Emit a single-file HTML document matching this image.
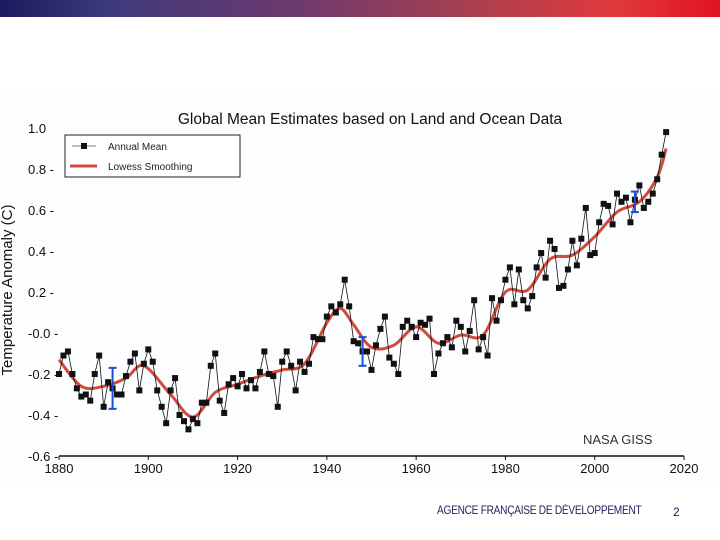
<!DOCTYPE html>
<html><head><meta charset="utf-8"><style>
body{margin:0;width:720px;height:540px;background:#fff;overflow:hidden;font-family:"Liberation Sans",sans-serif;position:relative}
#bar{position:absolute;left:0;top:0;width:720px;height:17px;background:linear-gradient(90deg,#1c1a5e 0%,#3d3a7c 15%,#6a3a6e 40%,#a8404f 65%,#e03a3c 85%,#e01520 100%)}
#footer{position:absolute;left:437px;top:505px;font-size:11.5px;color:#2b1a5a;letter-spacing:-0.3px;transform:scaleX(0.88);transform-origin:left}
#page{position:absolute;left:673px;top:505px;font-size:12px;color:#2b1a5a}
</style></head><body>
<div id="bar"></div>
<svg id="chart" width="720" height="540" style="position:absolute;left:0;top:0">
<rect x="0" y="93" width="720" height="390" fill="#fbfdff"/>
<text x="370" y="124" text-anchor="middle" font-size="15.5" fill="#111">Global Mean Estimates based on Land and Ocean Data</text>
<text transform="translate(12,290) rotate(-90)" text-anchor="middle" font-size="15" fill="#111">Temperature Anomaly (C)</text>
<g id="axes"></g><g id="marks"></g>
<g>
<rect x="65" y="135" width="175" height="42" fill="#fff" stroke="#222" stroke-width="1"/>
<line x1="72" y1="146" x2="96" y2="146" stroke="#555" stroke-width="0.8"/><rect x="81" y="143" width="6" height="6" fill="#111"/>
<text x="108" y="150" font-size="10" fill="#222">Annual Mean</text>
<line x1="70" y1="166" x2="97" y2="166" stroke="#d24a3c" stroke-width="3"/>
<text x="108" y="170" font-size="10" fill="#222">Lowess Smoothing</text>
</g>
<text x="583" y="444" font-size="13" fill="#333">NASA GISS</text>
</svg>
<div id="footer">AGENCE FRANÇAISE DE DÉVELOPPEMENT</div>
<div id="page">2</div>
<script>
const annual=[-0.20,-0.11,-0.09,-0.20,-0.27,-0.31,-0.30,-0.33,-0.20,-0.11,-0.36,-0.24,-0.27,-0.30,-0.30,-0.21,-0.14,-0.10,-0.28,-0.15,-0.08,-0.14,-0.28,-0.36,-0.44,-0.28,-0.22,-0.40,-0.43,-0.47,-0.42,-0.44,-0.34,-0.34,-0.16,-0.10,-0.33,-0.39,-0.25,-0.22,-0.26,-0.20,-0.27,-0.23,-0.27,-0.19,-0.09,-0.20,-0.21,-0.36,-0.14,-0.09,-0.16,-0.28,-0.14,-0.19,-0.15,-0.02,-0.03,-0.03,0.08,0.13,0.10,0.14,0.26,0.13,-0.04,-0.05,-0.09,-0.09,-0.18,-0.06,0.02,0.08,-0.12,-0.15,-0.20,0.03,0.06,0.03,-0.02,0.05,0.04,0.07,-0.20,-0.10,-0.05,-0.02,-0.07,0.06,0.03,-0.09,0.01,0.16,-0.08,-0.02,-0.11,0.17,0.06,0.16,0.26,0.32,0.14,0.31,0.16,0.12,0.18,0.32,0.39,0.27,0.45,0.41,0.22,0.23,0.31,0.45,0.33,0.46,0.61,0.38,0.39,0.54,0.63,0.62,0.53,0.68,0.64,0.66,0.54,0.65,0.72,0.61,0.64,0.68,0.75,0.87,0.98];
const firstYear=1880;
const lowessYears=[1880,1885,1890,1895,1899,1905,1910,1915,1920,1925,1930,1935,1940,1943,1946,1950,1955,1960,1965,1970,1975,1980,1985,1990,1995,2000,2005,2010,2014,2016];
const lowessVals=[-0.13,-0.26,-0.26,-0.22,-0.16,-0.30,-0.41,-0.29,-0.25,-0.21,-0.18,-0.15,0.05,0.12,0.04,-0.07,-0.06,0.03,-0.05,-0.01,-0.01,0.20,0.21,0.36,0.38,0.47,0.59,0.64,0.76,0.90];
const errYears=[1892,1948,2009];
const errCenter=[-0.27,-0.09,0.64];
const errHalf=[0.10,0.07,0.05];
const xTicks=[1880,1900,1920,1940,1960,1980,2000,2020];
const yTicks=[1.0,0.8,0.6,0.4,0.2,0.0,-0.2,-0.4,-0.6];
const yTickLabels=["1.0","0.8 -","0.6 -","0.4 -","0.2 -","-0.0 -","-0.2 -","-0.4 -","-0.6 -"];
const X=y=>59+(y-1880)*625/140;
const Y=v=>333-v*205;
const NS='http://www.w3.org/2000/svg';
function mk(t,a,p){const e=document.createElementNS(NS,t);for(const k in a)e.setAttribute(k,a[k]);p.appendChild(e);return e;}
const ax=document.getElementById('axes'),mg=document.getElementById('marks');
let l=mk('line',{x1:X(1880),x2:X(2020),y1:Y(-0.6),y2:Y(-0.6),stroke:'#111','stroke-width':1.5},ax);


xTicks.forEach(t=>{
 const tk=mk('line',{x1:X(t),x2:X(t),y1:Y(-0.6),y2:Y(-0.6)+4,stroke:'#111'},ax);
 
 
 const tx=mk('text',{x:X(t),y:Y(-0.6)+17,'text-anchor':'middle','font-size':13,fill:'#111'},ax);
 tx.textContent=t;
 
 
});
yTicks.forEach((t,i)=>{
 const tx=mk('text',{x:28,y:Y(t)+5,'font-size':13,fill:'#111'},ax);
 tx.textContent=yTickLabels[i];
 
 
});
// lowess
const pts=lowessYears.map((y,i)=>[X(y),Y(lowessVals[i])]);
let d='M'+pts[0][0]+','+pts[0][1];
for(let i=0;i<pts.length-1;i++){const p0=pts[i-1]||pts[i],p1=pts[i],p2=pts[i+1],p3=pts[i+2]||p2;
 d+=` C${p1[0]+(p2[0]-p0[0])/6},${p1[1]+(p2[1]-p0[1])/6} ${p2[0]-(p3[0]-p1[0])/6},${p2[1]-(p3[1]-p1[1])/6} ${p2[0]},${p2[1]}`;}
const lw=mk('path',{d:d,fill:'none',stroke:'#d24a3c','stroke-width':3},mg);


const al=mk('polyline',{points:annual.map((v,i)=>X(firstYear+i)+','+Y(v)).join(' '),fill:'none',stroke:'#111','stroke-width':0.8},mg);


annual.forEach((v,i)=>{
 const r=mk('rect',{x:X(firstYear+i)-3,y:Y(v)-3,width:6,height:6,fill:'#111'},mg);
 
 
});
errYears.forEach((y,i)=>{
 const g=mk('g',{stroke:'#1f4fd0','stroke-width':2},mg);
 
 
 const x=X(y),a=Y(errCenter[i]+errHalf[i]),b=Y(errCenter[i]-errHalf[i]);
 mk('line',{x1:x,x2:x,y1:a,y2:b},g);mk('line',{x1:x-4,x2:x+4,y1:a,y2:a},g);mk('line',{x1:x-4,x2:x+4,y1:b,y2:b},g);
});
</script>
</body></html>
